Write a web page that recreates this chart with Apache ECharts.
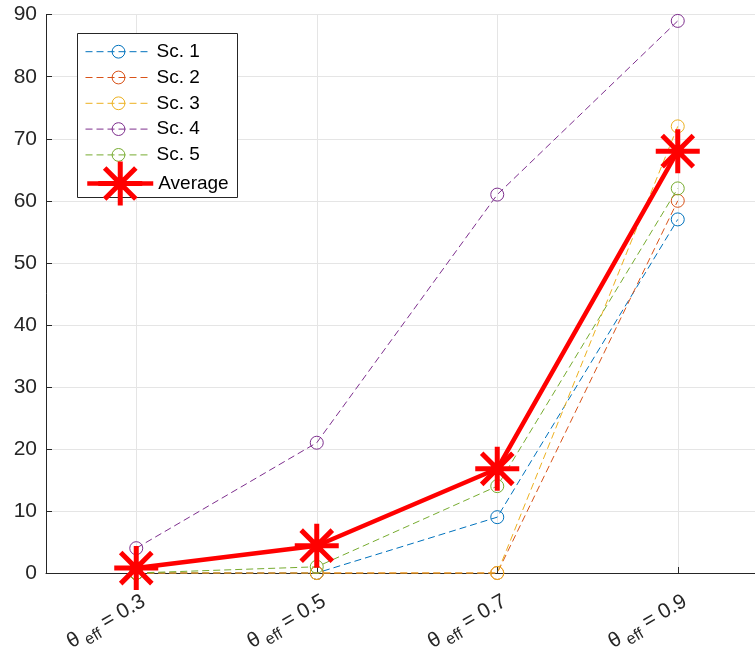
<!DOCTYPE html>
<html>
<head>
<meta charset="utf-8">
<script src="https://cdn.jsdelivr.net/npm/echarts@6/dist/echarts.min.js"></script>
<style>
html,body{margin:0;padding:0;background:#fff;overflow:hidden;width:755px;height:652px;}
#c{width:768px;height:652px;}
</style>
</head>
<body>
<div id="c"></div>
<script>
const categories = ['0.3', '0.5', '0.7', '0.9'];
const sc1 = [0, 0, 9, 57];
const sc2 = [0, 0, 0, 60];
const sc3 = [0, 0, 0, 72];
const sc4 = [4, 21, 61, 89];
const sc5 = [0, 1, 14, 62];
const average = [0.8, 4.4, 16.8, 68];
const seriesNames = ['Sc. 1', 'Sc. 2', 'Sc. 3', 'Sc. 4', 'Sc. 5'];
const seriesColors = ['#0072BD', '#D95319', '#EDB120', '#7E2F8E', '#77AC30'];
const yTicks = [0, 10, 20, 30, 40, 50, 60, 70, 80, 90];

const FONT = 'Liberation Sans, Arial, Helvetica, sans-serif';
const asterisk = 'path://M50,0L50,100M0,50L100,50M14.6,14.6L85.4,85.4M14.6,85.4L85.4,14.6';

const scData = [sc1, sc2, sc3, sc4, sc5];
const series = scData.map((d, i) => ({
  name: seriesNames[i],
  type: 'line',
  data: d,
  symbol: 'circle',
  symbolSize: 13,
  showSymbol: true,
  clip: false,
  z: 3 + i,
  lineStyle: { color: seriesColors[i], width: 1, type: [7, 4] },
  itemStyle: { color: 'rgba(0,0,0,0)', borderColor: seriesColors[i], borderWidth: 1 },
  emphasis: { disabled: true }
}));
series.push({
  name: 'Average',
  type: 'line',
  data: average,
  symbol: asterisk,
  symbolSize: 44,
  clip: false,
  z: 10,
  lineStyle: { color: '#FF0000', width: 4.5 },
  itemStyle: { color: '#FF0000', borderColor: '#FF0000', borderWidth: 5 },
  emphasis: { disabled: true }
});

const chart = echarts.init(document.getElementById('c'), null, { renderer: 'canvas' });
chart.setOption({
  animation: false,
  backgroundColor: '#fff',
  textStyle: { fontFamily: FONT },
  grid: { left: 46, top: 14.7, right: 0, bottom: 79, containLabel: false, outerBoundsMode: 'none' },
  xAxis: {
    type: 'category',
    data: categories,
    boundaryGap: true,
    axisLine: { show: true, lineStyle: { color: '#262626', width: 1 } },
    axisTick: { show: true, inside: true, length: 6, alignWithLabel: true, interval: 0, lineStyle: { color: '#262626' } },
    splitLine: { show: true, alignWithLabel: true, interval: 0, lineStyle: { color: '#e5e5e5', width: 1 } },
    axisLabel: {
      interval: 0,
      rotate: 30,
      margin: 14,
      verticalAlign: 'top',
      color: '#262626',
      fontSize: 21,
      fontFamily: FONT,
      formatter: v => '{t|θ}{s| eff}{t| = ' + v + '}',
      rich: {
        t: { fontSize: 21, color: '#262626', fontFamily: FONT },
        s: { fontSize: 16, color: '#262626', fontFamily: FONT, padding: [14, 0, 0, 0] }
      }
    }
  },
  yAxis: {
    type: 'value',
    min: yTicks[0],
    max: yTicks[yTicks.length - 1],
    interval: 10,
    axisLine: { show: true, lineStyle: { color: '#262626', width: 1 } },
    axisTick: { show: true, inside: true, length: 6, lineStyle: { color: '#262626' } },
    splitLine: { show: true, lineStyle: { color: '#e5e5e5', width: 1 } },
    axisLabel: { color: '#262626', fontSize: 21, margin: 9, fontFamily: FONT }
  },
  graphic: [{
    type: 'rect',
    z: 3,
    shape: { x: 77.5, y: 33.5, width: 160, height: 164 },
    style: { fill: '#fff', stroke: '#262626', lineWidth: 1 }
  }],
  legend: [{
    data: seriesNames,
    orient: 'vertical',
    left: 85,
    top: 42.2,
    padding: 0,
    itemWidth: 66,
    itemHeight: 16,
    itemGap: 6.8,
    z: 5,
    lineStyle: { width: 1 },
    itemStyle: { borderWidth: 1 },
    textStyle: { color: '#000', fontSize: 19, fontFamily: FONT },
    selectedMode: false
  }, {
    data: ['Average'],
    orient: 'vertical',
    left: 85,
    top: 159,
    padding: 0,
    itemWidth: 66,
    itemHeight: 55,
    z: 5,
    lineStyle: { width: 4.5 },
    itemStyle: { borderWidth: 5 },
    textStyle: { color: '#000', fontSize: 19, fontFamily: FONT },
    selectedMode: false
  }],
  series: series
});
</script>
</body>
</html>
